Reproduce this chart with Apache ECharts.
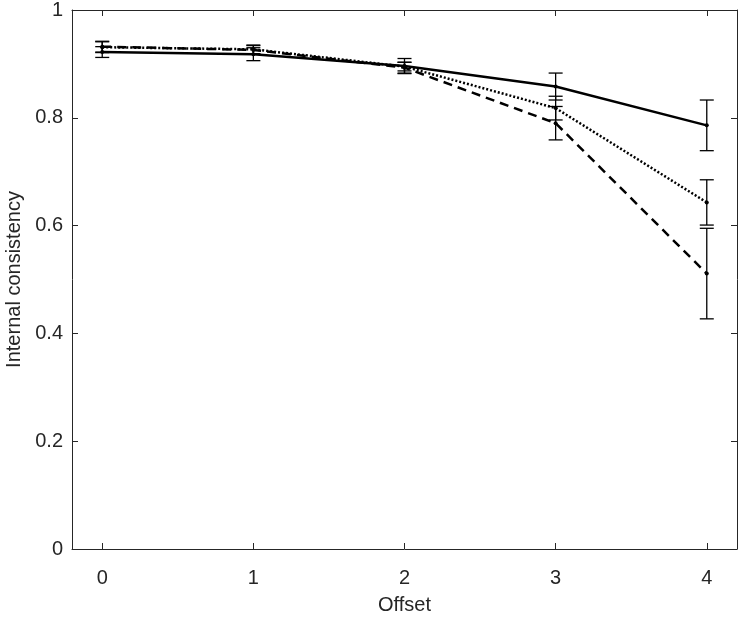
<!DOCTYPE html>
<html>
<head>
<meta charset="utf-8">
<script src="https://cdn.jsdelivr.net/npm/echarts@6/dist/echarts.min.js"></script>
<style>
  html, body { margin: 0; padding: 0; background: #fff; }
  #chart { width: 739px; height: 618px; }
</style>
</head>
<body>
<div id="chart"></div>
<script>
// offsets on the x axis
const offsets = [0, 1, 2, 3, 4];
const xTicks = [0, 1, 2, 3, 4];
const yTicks = [0, 0.2, 0.4, 0.6, 0.8, 1];

// solid line
const solidMean = [0.922, 0.918, 0.896, 0.858, 0.786];
const solidErr = [0.010, 0.012, 0.014, 0.025, 0.047];
// dotted line
const dottedMean = [0.931, 0.927, 0.895, 0.818, 0.643];
const dottedErr = [0.010, 0.008, 0.008, 0.022, 0.042];
// dashed line
const dashedMean = [0.932, 0.926, 0.893, 0.790, 0.511];
const dashedErr = [0.010, 0.008, 0.010, 0.031, 0.084];

const textColor = '#262626';
const fontFamily = '"Liberation Sans", Arial, sans-serif';
const fontSize = 20;

function lineSeries (name, mean, type) {
  return {
    name: name,
    type: 'line',
    data: offsets.map((x, i) => [x, mean[i]]),
    symbol: 'circle',
    symbolSize: 4,
    itemStyle: { color: '#000' },
    lineStyle: { color: '#000', width: 2.5, type: type },
    z: 3
  };
}

function errorSeries (name, mean, err) {
  return {
    name: name + ' err',
    type: 'custom',
    data: offsets.map((x, i) => [x, mean[i] - err[i], mean[i] + err[i]]),
    renderItem: function (params, api) {
      const lo = api.coord([api.value(0), api.value(1)]);
      const hi = api.coord([api.value(0), api.value(2)]);
      const hw = 7;
      const style = { stroke: '#000', lineWidth: 1.3, fill: null };
      return {
        type: 'group',
        children: [
          { type: 'line', shape: { x1: lo[0], y1: lo[1], x2: hi[0], y2: hi[1] }, style: style },
          { type: 'line', shape: { x1: lo[0] - hw, y1: lo[1], x2: lo[0] + hw, y2: lo[1] }, style: style },
          { type: 'line', shape: { x1: hi[0] - hw, y1: hi[1], x2: hi[0] + hw, y2: hi[1] }, style: style }
        ]
      };
    },
    z: 4
  };
}

const axisCommon = {
  type: 'value',
  axisLine: { show: true, onZero: false, lineStyle: { color: '#262626', width: 1 } },
  splitLine: { show: false },
  axisTick: { show: true, inside: true, length: 6, lineStyle: { color: '#262626' } }
};

const chart = echarts.init(document.getElementById('chart'));
chart.setOption({
  animation: false,
  backgroundColor: '#fff',
  grid: { left: 72, right: 2, top: 10, bottom: 69, containLabel: false, outerBoundsMode: 'none' },
  xAxis: [
    Object.assign({}, axisCommon, {
      min: -0.2, max: 4.2,
      position: 'bottom',
      name: 'Offset',
      nameLocation: 'middle',
      nameGap: 46,
      nameTextStyle: { color: textColor, fontSize: fontSize, fontFamily: fontFamily },
      axisTick: Object.assign({}, axisCommon.axisTick, { customValues: xTicks }),
      axisLabel: { color: textColor, fontSize: fontSize, fontFamily: fontFamily, margin: 19, customValues: xTicks }
    }),
    Object.assign({}, axisCommon, {
      min: -0.2, max: 4.2,
      position: 'top',
      axisTick: Object.assign({}, axisCommon.axisTick, { customValues: xTicks }),
      axisLabel: { show: false }
    })
  ],
  yAxis: [
    Object.assign({}, axisCommon, {
      min: 0, max: 1, interval: 0.2,
      position: 'left',
      name: 'Internal consistency',
      nameLocation: 'middle',
      nameGap: 47,
      nameTextStyle: { color: textColor, fontSize: fontSize, fontFamily: fontFamily },
      axisTick: Object.assign({}, axisCommon.axisTick, { customValues: yTicks }),
      axisLabel: { color: textColor, fontSize: fontSize, fontFamily: fontFamily, margin: 9, customValues: yTicks }
    }),
    Object.assign({}, axisCommon, {
      min: 0, max: 1, interval: 0.2,
      position: 'right',
      axisTick: Object.assign({}, axisCommon.axisTick, { customValues: yTicks }),
      axisLabel: { show: false }
    })
  ],
  series: [
    lineSeries('solid', solidMean, 'solid'),
    lineSeries('dotted', dottedMean, [2, 2]),
    lineSeries('dashed', dashedMean, [9, 6]),
    errorSeries('solid', solidMean, solidErr),
    errorSeries('dotted', dottedMean, dottedErr),
    errorSeries('dashed', dashedMean, dashedErr)
  ]
});
</script>
</body>
</html>
